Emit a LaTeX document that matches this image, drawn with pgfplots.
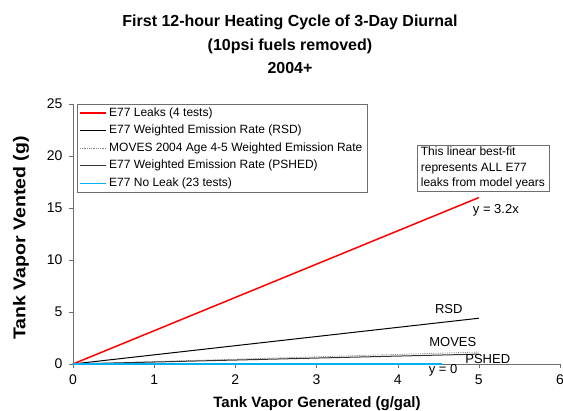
\documentclass[border=0pt]{standalone}
\usepackage{fontspec}
\setmainfont{Liberation Sans}
\usepackage{pgfplots}
\pgfplotsset{compat=1.18}
\definecolor{noleak}{RGB}{0,176,240}
\definecolor{axgray}{RGB}{110,110,110}
\begin{document}
\begin{tikzpicture}
\path[use as bounding box] (-73pt,-47pt) rectangle (490pt,364pt);
\begin{axis}[
  scale only axis,
  width=487pt, height=260pt,
  at={(0,0)}, anchor=south west,
  xmin=0, xmax=6, ymin=0, ymax=25,
  xtick={0,1,...,6}, ytick={0,5,...,25},
  axis lines=left,
  axis line style={-, axgray},
  tick style={axgray, major tick length=4pt},
  tick align=outside,
  tick label style={font=\fontsize{14}{14}\selectfont},
  xticklabel style={yshift=-3pt},
  yticklabel style={xshift=-3pt},
  /pgf/number format/assume math mode=true,
  clip=false,
]
% E77 Leaks (4 tests)
\addplot[color=red, line width=1.5pt] coordinates {(0,0) (5,16)};
% E77 Weighted Emission Rate (RSD)
\addplot[color=black, line width=1pt] coordinates {(0,0) (5,4.4)};
% MOVES 2004 Age 4-5 Weighted Emission Rate
\addplot[color=gray, densely dotted, line width=0.8pt] coordinates {(0,0) (5,1.15)};
% E77 Weighted Emission Rate (PSHED)
\addplot[color=black!80, line width=1pt] coordinates {(0,0) (5,0.95)};
% E77 No Leak (23 tests)
\addplot[color=noleak, line width=1.2pt] coordinates {(0,0) (4.55,0)};
\node[font=\fontsize{13}{13}\selectfont] at (axis cs:5.21,14.8) {y = 3.2x};
\node[font=\fontsize{13}{13}\selectfont] at (axis cs:4.63,5.3) {RSD};
\node[font=\fontsize{13}{13}\selectfont] at (axis cs:4.68,2.1) {MOVES};
\node[font=\fontsize{13}{13}\selectfont] at (axis cs:5.11,0.5) {PSHED};
\node[font=\fontsize{13}{13}\selectfont] at (axis cs:4.56,-0.6) {y = 0};
\node[draw=axgray, fill=white, align=left, inner xsep=4pt, inner ysep=2pt,
  font=\fontsize{12}{15.5}\selectfont] at (axis cs:5.05,18.85)
  {This linear best-fit\\represents ALL E77\\leaks from model years};
\end{axis}
% legend, one row per series
\draw[axgray, fill=white] (4pt,260pt) rectangle (294pt,172pt);
\draw[red, line width=1.5pt] (7pt,251pt) -- (33pt,251pt);
\draw[black, line width=1pt] (7pt,233.4pt) -- (33pt,233.4pt);
\draw[gray, densely dotted, line width=0.8pt] (7pt,215.8pt) -- (33pt,215.8pt);
\draw[black!80, line width=1pt] (7pt,198.2pt) -- (33pt,198.2pt);
\draw[noleak, line width=1.2pt] (7pt,180.6pt) -- (33pt,180.6pt);
\begin{scope}[every node/.style={anchor=west, inner sep=0pt, font=\fontsize{12}{12}\selectfont}]
\node at (36pt,251pt) {E77 Leaks (4 tests)};
\node at (36pt,233.4pt) {E77 Weighted Emission Rate (RSD)};
\node at (36pt,215.8pt) {MOVES 2004 Age 4-5 Weighted Emission Rate};
\node at (36pt,198.2pt) {E77 Weighted Emission Rate (PSHED)};
\node at (36pt,180.6pt) {E77 No Leak (23 tests)};
\end{scope}
\node[font=\bfseries\fontsize{16}{16}\selectfont, anchor=base] at (217pt,337pt) {First 12-hour Heating Cycle of 3-Day Diurnal};
\node[font=\bfseries\fontsize{16}{16}\selectfont, anchor=base] at (217pt,313pt) {(10psi fuels removed)};
\node[font=\bfseries\fontsize{16}{16}\selectfont, anchor=base] at (217pt,290pt) {2004+};
\node[font=\bfseries\fontsize{15}{15}\selectfont, anchor=base] at (244pt,-44pt) {Tank Vapor Generated (g/gal)};
\node[font=\bfseries\fontsize{17}{17}\selectfont, rotate=90] at (-52pt,126pt) {\scalebox{1.15}[1]{Tank Vapor Vented (g)}};
\end{tikzpicture}
\end{document}
